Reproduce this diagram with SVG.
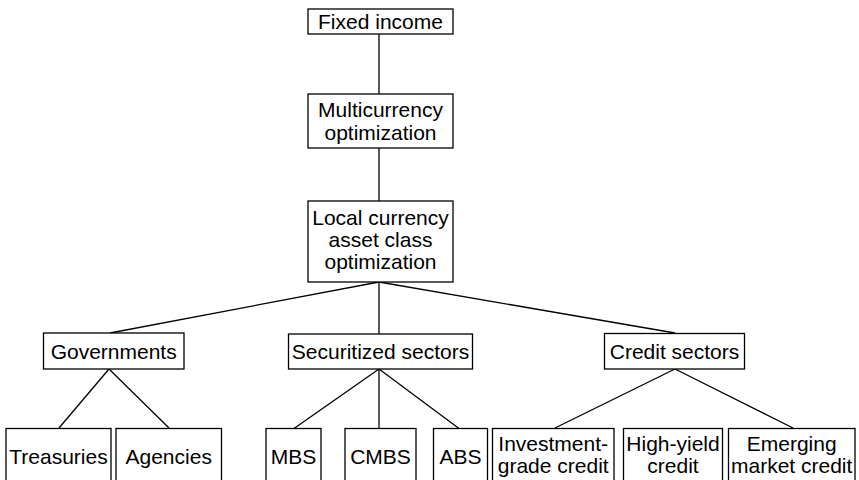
<svg xmlns="http://www.w3.org/2000/svg" width="859" height="480" viewBox="0 0 859 480">
  <style>
    .box { fill: #fff; stroke: #000; stroke-width: 1.3; }
    .lbl { font-family: "Liberation Sans", Arial, sans-serif; font-size: 21px; fill: #000; text-anchor: middle; }
    .edge { stroke: #000; stroke-width: 1.3; fill: none; }
  </style>
  <rect width="859" height="480" fill="#fff"/>

  <g id="connectors">
    <line class="edge" x1="379" y1="34" x2="379" y2="94"/>
    <line class="edge" x1="379" y1="148" x2="379" y2="201"/>
    <line class="edge" x1="379" y1="282" x2="110" y2="333"/>
    <line class="edge" x1="379" y1="282" x2="379" y2="334"/>
    <line class="edge" x1="379" y1="282" x2="675" y2="333"/>
    <line class="edge" x1="109" y1="369" x2="59" y2="428"/>
    <line class="edge" x1="109" y1="369" x2="169" y2="428"/>
    <line class="edge" x1="379" y1="369" x2="294" y2="428.5"/>
    <line class="edge" x1="379" y1="369" x2="379" y2="428.5"/>
    <line class="edge" x1="379" y1="369" x2="459" y2="428.5"/>
    <line class="edge" x1="675" y1="369" x2="555" y2="428"/>
    <line class="edge" x1="675" y1="369" x2="793" y2="428"/>
  </g>

  <g id="fixed-income">
    <rect class="box" x="308" y="9" width="145" height="25"/>
    <text class="lbl" x="380.5" y="28.5">Fixed income</text>
  </g>

  <g id="multicurrency">
    <rect class="box" x="308" y="94" width="145" height="54"/>
    <text class="lbl" x="380.5" y="116.5">Multicurrency</text>
    <text class="lbl" x="380.5" y="139.5">optimization</text>
  </g>

  <g id="local-currency">
    <rect class="box" x="308" y="201" width="145" height="81"/>
    <text class="lbl" x="380.5" y="225">Local currency</text>
    <text class="lbl" x="380.5" y="247">asset class</text>
    <text class="lbl" x="380.5" y="269">optimization</text>
  </g>

  <g id="governments">
    <rect class="box" x="43.5" y="333" width="140.5" height="36"/>
    <text class="lbl" x="113.7" y="359">Governments</text>
  </g>

  <g id="securitized">
    <rect class="box" x="288.5" y="334" width="184" height="35"/>
    <text class="lbl" x="380.5" y="358.5">Securitized sectors</text>
  </g>

  <g id="credit">
    <rect class="box" x="604.5" y="333.5" width="140" height="35.5"/>
    <text class="lbl" x="674.5" y="358.5">Credit sectors</text>
  </g>

  <g id="treasuries">
    <rect class="box" x="6" y="428.5" width="105" height="62"/>
    <text class="lbl" x="58.5" y="463.5">Treasuries</text>
  </g>

  <g id="agencies">
    <rect class="box" x="116" y="428.5" width="105.5" height="62"/>
    <text class="lbl" x="168.7" y="463.5">Agencies</text>
  </g>

  <g id="mbs">
    <rect class="box" x="266" y="428.5" width="55" height="62"/>
    <text class="lbl" x="293.5" y="463.5">MBS</text>
  </g>

  <g id="cmbs">
    <rect class="box" x="345" y="428.5" width="71" height="62"/>
    <text class="lbl" x="380.5" y="463.5">CMBS</text>
  </g>

  <g id="abs">
    <rect class="box" x="433.5" y="428.5" width="54" height="62"/>
    <text class="lbl" x="460.5" y="463.5">ABS</text>
  </g>

  <g id="investment-grade">
    <rect class="box" x="492.5" y="428.5" width="121.5" height="62"/>
    <text class="lbl" x="553.2" y="450.5">Investment-</text>
    <text class="lbl" x="553.2" y="473">grade credit</text>
  </g>

  <g id="high-yield">
    <rect class="box" x="623.5" y="428.5" width="99" height="62"/>
    <text class="lbl" x="673" y="450.5">High-yield</text>
    <text class="lbl" x="673" y="473">credit</text>
  </g>

  <g id="emerging">
    <rect class="box" x="728.5" y="428.5" width="126.5" height="62"/>
    <text class="lbl" x="791.7" y="450.5">Emerging</text>
    <text class="lbl" x="791.7" y="473">market credit</text>
  </g>
</svg>
